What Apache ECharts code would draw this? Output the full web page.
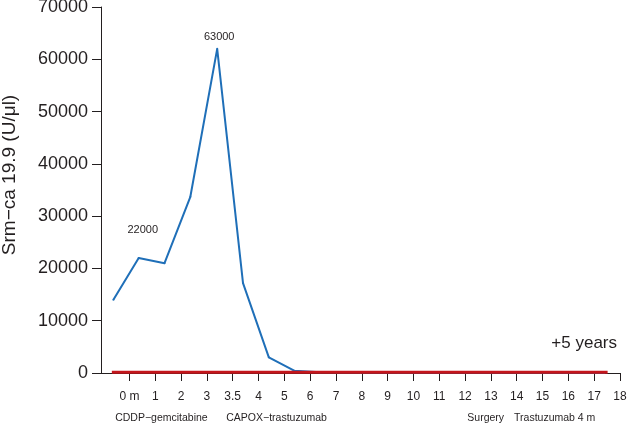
<!DOCTYPE html>
<html>
<head>
<meta charset="utf-8">
<script src="https://cdn.jsdelivr.net/npm/echarts@6/dist/echarts.min.js"></script>
<style>
html,body{margin:0;padding:0;background:#fff;}
#chart{width:627px;height:425px;}
</style>
</head>
<body>
<div id="chart"></div>
<script>
// Tick labels of the time axis (months), one per tick position 0..19
const tickLabels = ['0 m','1','2','3','3.5','4','5','6','7','8','9','10','11','12','13','14','15','16','17','18'];
// Treatment phases written under the axis and where they sit on it
const phaseNames = ['CDDP\u2212gemcitabine','CAPOX\u2212trastuzumab','Surgery','Trastuzumab 4 m'];
const phasePos = [1.24, 5.7, 13.8, 16.47];
// CA 19-9 measurements: position on the time axis and value
const sampleX = [-0.62, 0.36, 1.36, 2.36, 3.4, 4.4, 5.4, 6.38, 7.4, 10.4, 14.4, 18.4];
const sampleY = [14000, 22000, 21000, 33700, 62000, 17200, 3000, 450, 120, 90, 80, 70];
// Values annotated above points (index into samples -> text)
const pointNotes = {1: '22000', 4: '63000'};
// Normal-range reference line
const refX = [-0.68, 18.52];
const refY = [150, 150];

const FONT = '"Liberation Sans", Arial, sans-serif';
const INK = '#231f20';
const BLUE = '#1f6fb8';
const noteOffset = {1: [4, 0], 4: [2, 0]};

const blueData = sampleX.map((x, i) => {
  const item = {value: [x, sampleY[i]]};
  if (pointNotes[i]) {
    item.label = {
      show: true, position: 'top', formatter: pointNotes[i],
      fontSize: 11, color: INK, fontFamily: FONT,
      distance: i === 1 ? 22 : 5, offset: noteOffset[i]
    };
  }
  return item;
});

const chart = echarts.init(document.getElementById('chart'));
chart.setOption({
  animation: false,
  backgroundColor: '#fff',
  textStyle: {fontFamily: FONT},
  title: {
    text: '+5 years', right: 10, top: 335, padding: 0,
    textStyle: {fontSize: 17, fontWeight: 'normal', color: INK, fontFamily: FONT}
  },
  grid: {left: 101, right: 7, top: 7, bottom: 52, containLabel: false, outerBoundsMode: 'none'},
  xAxis: [{
    type: 'value', min: -1.1, max: 19,
    splitLine: {show: false},
    axisLine: {show: true, onZero: false, lineStyle: {color: INK, width: 1}},
    axisTick: {show: true, customValues: tickLabels.map((_, i) => i), length: 8, lineStyle: {color: INK}},
    axisLabel: {
      show: true, customValues: tickLabels.map((_, i) => i), margin: 18,
      fontSize: 12, color: INK, fontFamily: FONT,
      formatter: v => tickLabels[Math.round(v)]
    }
  }, {
    type: 'value', min: -1.1, max: 19, position: 'bottom',
    splitLine: {show: false},
    axisLine: {show: false, onZero: false}, axisTick: {show: false},
    axisLabel: {
      show: true, customValues: phasePos, margin: 40,
      fontSize: 10.5, color: INK, fontFamily: FONT,
      formatter: v => phaseNames[phasePos.indexOf(v)]
    }
  }],
  yAxis: {
    type: 'value', min: 0, max: 70000, interval: 10000,
    name: 'Srm\u2212ca 19.9 (U/\u03bcl)', nameLocation: 'middle', nameGap: 82,
    nameMoveOverlap: false,
    nameTextStyle: {fontSize: 19, color: INK, fontFamily: FONT, padding: [0, 0, 0, 30]},
    splitLine: {show: false},
    axisLine: {show: true, onZero: false, lineStyle: {color: INK, width: 1}},
    axisTick: {show: true, length: 9, lineStyle: {color: INK}},
    axisLabel: {fontSize: 18, color: INK, fontFamily: FONT, margin: 13, formatter: v => String(v)}
  },
  series: [{
    type: 'line', xAxisIndex: 0, data: blueData,
    symbol: 'circle', symbolSize: 2, showSymbol: true,
    itemStyle: {color: BLUE},
    lineStyle: {color: BLUE, width: 2}, z: 3
  }, {
    type: 'line', xAxisIndex: 0, data: refX.map((x, i) => [x, refY[i]]),
    symbol: 'none', lineStyle: {color: '#c4161c', width: 3}, z: 4
  }]
});
</script>
</body>
</html>
